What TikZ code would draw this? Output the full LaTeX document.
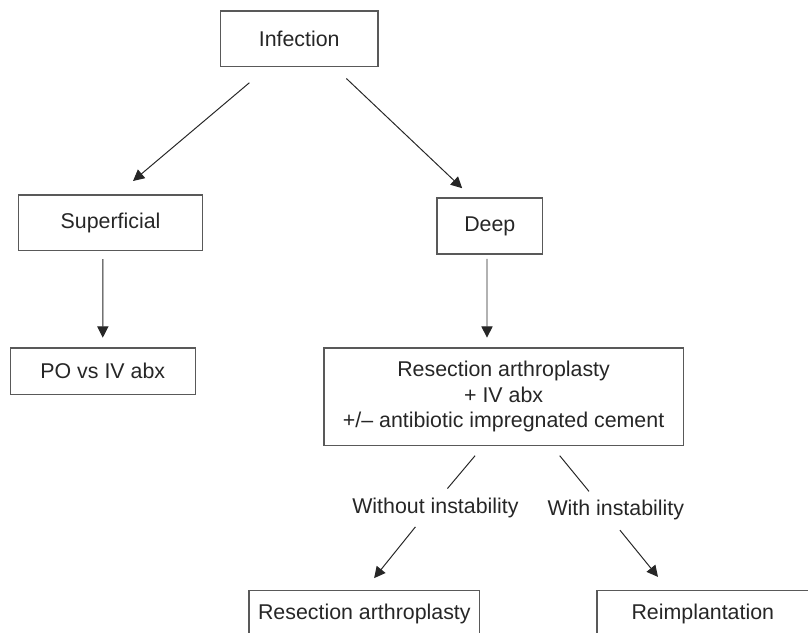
\documentclass[tikz,border=0pt]{standalone}
\usepackage{fontspec}
\setmainfont{Liberation Sans}
\usetikzlibrary{arrows.meta}

\begin{document}
\begin{tikzpicture}[
        box/.style={draw=black!65,line width=1.1pt,align=center,inner sep=0pt},
        link/.style={line width=0.7pt,black!85},
        arr/.style={link,-{Triangle[length=2.8mm,width=2.8mm]}},
        font=\fontsize{15.2}{18.2}\selectfont,text=black!85]
        \useasboundingbox (0,0) rectangle (20.2,-15.825);
        \clip (0,0) rectangle (20.2,-15.825);

        \coordinate (inf) at (7.48,-0.969);
        \coordinate (sup) at (2.763,-5.572);
        \coordinate (dp) at (12.245,-5.65);
        \coordinate (po) at (2.57,-9.28);
        \coordinate (res) at (12.59,-9.92);
        \coordinate (wo) at (10.885,-12.70);
        \coordinate (wi) at (15.395,-12.74);
        \coordinate (ra) at (9.108,-15.34);
        \coordinate (ri) at (17.57,-15.34);

        \node[box,minimum width=3.93cm,minimum height=1.39cm] (infection) at (inf) {Infection};
        \node[box,minimum width=4.6cm,minimum height=1.39cm] (superficial) at (sup) {Superficial};
        \node[box,minimum width=2.64cm,minimum height=1.41cm] (deep) at (dp) {Deep};
        \node[box,minimum width=4.625cm,minimum height=1.16cm] (poiv) at (po) {PO vs IV abx};
        \node[box,minimum width=8.99cm,minimum height=2.44cm] (resection) at (res) {Resection arthroplasty\\+ IV abx\\+/-- antibiotic impregnated cement};
        \node (without) at (wo) {Without instability};
        \node (with) at (wi) {With instability};
        \node[box,minimum width=5.77cm,minimum height=1.16cm] (resect2) at (ra) {Resection arthroplasty};
        \node[box,minimum width=5.3cm,minimum height=1.16cm] (reimpl) at (ri) {Reimplantation};

        \draw[arr] ([xshift=-1.245cm,yshift=-0.385cm]infection.south) -- ([xshift=0.5625cm,yshift=0.3325cm]superficial.north);
        \draw[arr] ([xshift=1.18cm,yshift=-0.28cm]infection.south) -- ([xshift=-0.69cm,yshift=0.22cm]deep.north);
        \draw[arr] ([xshift=-0.19cm,yshift=-0.19cm]superficial.south) -- ([yshift=0.24cm]poiv.north);
        \draw[arr] ([xshift=-0.07cm,yshift=-0.1cm]deep.south) -- ([xshift=-0.415cm,yshift=0.24cm]resection.north);
        \draw[link] ([xshift=-0.7125cm,yshift=-0.2325cm]resection.south) -- ([xshift=0.3cm,yshift=0.485cm]without.center);
        \draw[arr] ([xshift=-0.5cm,yshift=-0.4725cm]without.center) -- ([xshift=0.245cm,yshift=0.2875cm]resect2.north);
        \draw[link] ([xshift=1.4025cm,yshift=-0.2325cm]resection.south) -- ([xshift=-0.67cm,yshift=0.455cm]with.center);
        \draw[arr] ([xshift=0.1025cm,yshift=-0.5125cm]with.center) -- ([xshift=-1.12cm,yshift=0.3175cm]reimpl.north);
\end{tikzpicture}
\end{document}
